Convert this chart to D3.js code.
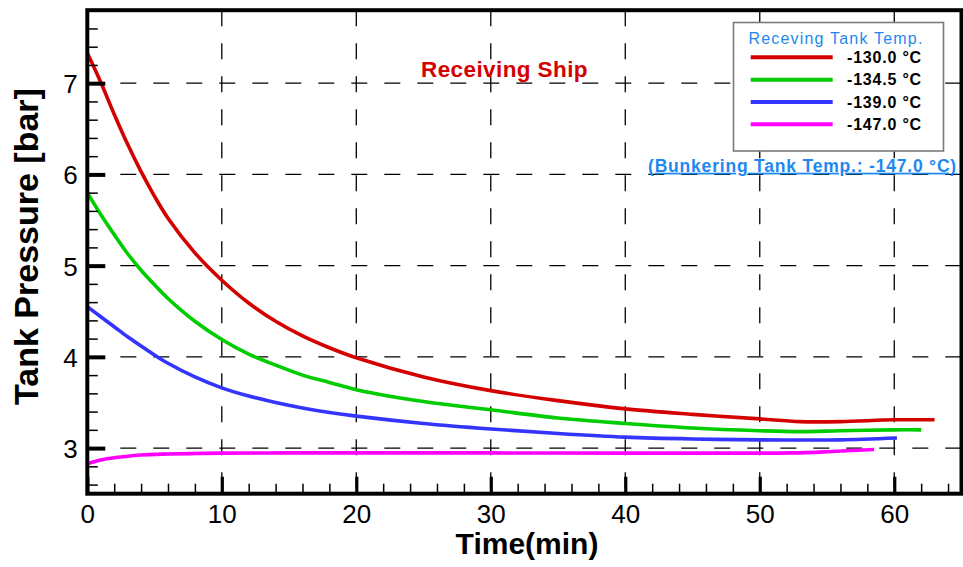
<!DOCTYPE html>
<html><head><meta charset="utf-8">
<script src="https://cdn.jsdelivr.net/npm/d3@7"></script>
<style>
body{margin:0;background:#fff;}
svg{display:block;font-family:"Liberation Sans",Arial,Helvetica,sans-serif;}
</style>
</head><body>
<svg id="chart" width="963" height="567"></svg>
<script>
// ---- data ----
const xTicks = [0, 10, 20, 30, 40, 50, 60];
const yTicks = [3, 4, 5, 6, 7];
const xDomain = [0, 65];
const yDomain = [2.5, 7.8];
const seriesLabels = ["-130.0 °C", "-134.5 °C", "-139.0 °C", "-147.0 °C"];
const legendTitle = "Receving Tank Temp.";
const noteText = "(Bunkering Tank Temp.: -147.0 °C)";
const shipText = "Receiving Ship";

const timeRed = [0,1,2,3,4,5,6,8,10,12,14,16,18,20,25,30,35,40,45,50,53,56,60,63];
const pressureRed = [7.33,7.01,6.66,6.33,6.03,5.76,5.52,5.14,4.84,4.59,4.39,4.23,4.10,3.99,3.78,3.63,3.52,3.43,3.37,3.32,3.29,3.29,3.31,3.31];

const timeGreen = [0,1,2,3,4,5,6,8,10,12,14,16,18,20,25,30,35,40,45,50,53,56,60,62];
const pressureGreen = [5.80,5.56,5.34,5.13,4.95,4.79,4.64,4.39,4.19,4.03,3.91,3.80,3.72,3.64,3.51,3.42,3.33,3.27,3.22,3.19,3.18,3.19,3.20,3.20];

const timeBlue = [0,1,2,3,4,5,6,8,10,12,14,16,18,20,25,30,35,40,45,50,53,56,60.2];
const pressureBlue = [4.55,4.44,4.33,4.22,4.12,4.02,3.93,3.78,3.66,3.57,3.50,3.44,3.39,3.35,3.27,3.21,3.16,3.12,3.10,3.09,3.088,3.09,3.11];

const timeMagenta = [0,1,2,3,4,6,8,10,15,20,30,40,50,52.5,55,58.5];
const pressureMagenta = [2.83,2.87,2.895,2.91,2.925,2.935,2.94,2.945,2.947,2.948,2.947,2.945,2.945,2.947,2.96,2.985];

const seriesColors = ["#d40000", "#00cc00", "#3434ff", "#ff00ff"];

// ---- layout ----
const svg = d3.select("#chart");
const L = 87.3, R = 961.5, T = 10.2, B = 493.7;
const x = d3.scaleLinear().domain(xDomain).range([L, R]);
const y = d3.scaleLinear().domain(yDomain).range([B, T]);

const series = [
  {t: timeRed, p: pressureRed},
  {t: timeGreen, p: pressureGreen},
  {t: timeBlue, p: pressureBlue},
  {t: timeMagenta, p: pressureMagenta}
];

// grid
const grid = svg.append("g").attr("stroke", "#000").attr("stroke-width", 1.3).attr("stroke-dasharray", "16,17").attr("fill", "none");
yTicks.forEach(v => grid.append("line").attr("x1", L).attr("x2", R).attr("y1", y(v)).attr("y2", y(v)));
xTicks.filter(v => v > 0).forEach(v => grid.append("line").attr("x1", x(v)).attr("x2", x(v)).attr("y1", T).attr("y2", B));

// curves
const line = d3.line().x(d => x(d[0])).y(d => y(d[1])).curve(d3.curveCatmullRom.alpha(0.5));
series.forEach((s, i) => {
  const pts = s.t.map((t, j) => [t, s.p[j]]);
  svg.append("path").datum(pts).attr("d", line)
    .attr("fill", "none").attr("stroke", seriesColors[i]).attr("stroke-width", 3.6)
    .attr("stroke-linejoin", "round");
});

// axes
const minorX = d3.range(0, 65, 2).filter(v => v % 10 !== 0);
const minorY = d3.range(26, 78, 2).map(v => v / 10).filter(v => Math.abs(v - Math.round(v)) > 1e-6);

const xMinor = svg.append("g").attr("transform", `translate(0,${B})`)
  .call(d3.axisBottom(x).tickValues(minorX).tickSize(-10).tickFormat(""));
xMinor.select(".domain").remove();
xMinor.selectAll("line").attr("stroke", "#000").attr("stroke-width", 1.5);

const xMajor = svg.append("g").attr("transform", `translate(0,${B})`)
  .call(d3.axisBottom(x).tickValues(xTicks).tickSize(-17).tickFormat(d3.format("d")));
xMajor.select(".domain").remove();
xMajor.selectAll("line").attr("stroke", "#000").attr("stroke-width", 3.2);
xMajor.selectAll("text").attr("y", 29.3).attr("dy", null).attr("fill", "#000")
  .style("font-size", "26px").style("font-family", "'Liberation Sans', Arial, sans-serif");

const yMinor = svg.append("g").attr("transform", `translate(${L},0)`)
  .call(d3.axisLeft(y).tickValues(minorY).tickSize(-10.5).tickFormat(""));
yMinor.select(".domain").remove();
yMinor.selectAll("line").attr("stroke", "#000").attr("stroke-width", 1.5);

const yMajor = svg.append("g").attr("transform", `translate(${L},0)`)
  .call(d3.axisLeft(y).tickValues(yTicks).tickSize(-18).tickFormat(d3.format("d")));
yMajor.select(".domain").remove();
yMajor.selectAll("line").attr("stroke", "#000").attr("stroke-width", 4);
yMajor.selectAll("text").attr("x", -9.5).attr("dy", "0.36em").attr("fill", "#000")
  .style("font-size", "26px").style("font-family", "'Liberation Sans', Arial, sans-serif");

// frame
svg.append("rect").attr("x", L).attr("y", T).attr("width", R - L).attr("height", B - T)
  .attr("fill", "none").attr("stroke", "#000").attr("stroke-width", 4);

// axis titles
svg.append("text").attr("x", 527).attr("y", 554).attr("text-anchor", "middle")
  .attr("font-weight", "bold").attr("font-size", 30).attr("fill", "#000").text("Time(min)");
svg.append("text").attr("transform", "translate(37.5,246.5) rotate(-90)").attr("text-anchor", "middle")
  .attr("font-weight", "bold").attr("font-size", 34).attr("fill", "#000").text("Tank Pressure [bar]");

// annotation
svg.append("text").attr("x", 504.5).attr("y", 76.7).attr("text-anchor", "middle")
  .attr("font-weight", "bold").attr("font-size", 22.5).attr("letter-spacing", 0.4)
  .attr("fill", "#d40000").text(shipText);

// legend
const lg = svg.append("g");
lg.append("rect").attr("x", 733.5).attr("y", 22.5).attr("width", 210).attr("height", 128.5)
  .attr("fill", "#fff").attr("stroke", "#7a7a7a").attr("stroke-width", 1.6);
lg.append("text").attr("x", 836).attr("y", 44.3).attr("text-anchor", "middle")
  .attr("font-size", 16).attr("letter-spacing", 1.2).attr("fill", "#1e88f0").text(legendTitle);
seriesLabels.forEach((lab, i) => {
  const cy = 57.3 + i * 22.35;
  lg.append("line").attr("x1", 750.7).attr("x2", 832.7).attr("y1", cy).attr("y2", cy)
    .attr("stroke", seriesColors[i]).attr("stroke-width", 4);
  lg.append("text").attr("x", 847).attr("y", cy + 5.8)
    .attr("font-weight", "bold").attr("font-size", 16).attr("letter-spacing", 0.8)
    .attr("fill", "#000").text(lab);
});

svg.append("text").attr("x", 802.5).attr("y", 171.7).attr("text-anchor", "middle")
  .attr("font-weight", "bold").attr("font-size", 17.5).attr("letter-spacing", 0.8)
  .style("text-decoration", "underline")
  .attr("fill", "#1e88f0").text(noteText);
</script>
</body></html>
